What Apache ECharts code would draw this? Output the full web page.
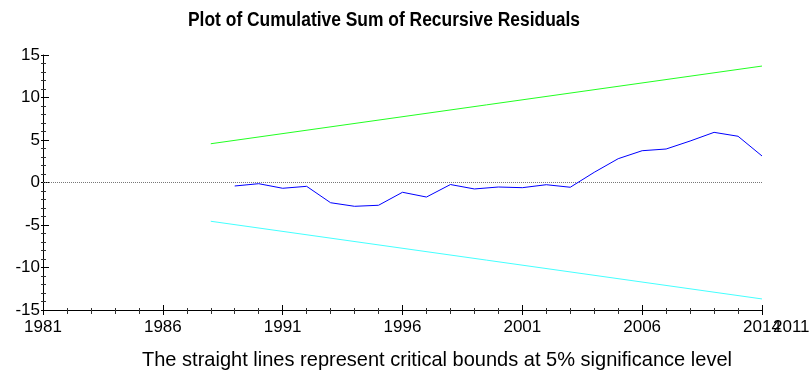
<!DOCTYPE html>
<html>
<head>
<meta charset="utf-8">
<script src="https://cdn.jsdelivr.net/npm/echarts@6/dist/echarts.min.js"></script>
<style>
html,body{margin:0;padding:0;background:#fff;}
#chart{width:809px;height:372px;}
</style>
</head>
<body>
<div id="chart"></div>
<script>
// Positions along the horizontal axis (0 = 1981 tick, 30 = last tick)
const tickLabels = {0:'1981', 5:'1986', 10:'1991', 15:'1996', 20:'2001', 25:'2006', 30:'2014'};
const extraLabel = '2011';

// CUSUM of recursive residuals
const cusumX = [8,9,10,11,12,13,14,15,16,17,18,19,20,21,22,23,24,25,26,27,28,29,30];
const cusumY = [-0.41,-0.14,-0.68,-0.45,-2.38,-2.80,-2.68,-1.15,-1.71,-0.24,-0.76,-0.53,-0.61,-0.26,-0.56,1.20,2.80,3.74,3.94,4.88,5.90,5.44,3.12];

// 5% critical bounds (straight lines, endpoints)
const boundX = [7, 30];
const upperBound = [4.56, 13.7];
const lowerBound = [-4.56, -13.7];

const titleText = 'Plot of Cumulative Sum of Recursive Residuals';
const footText = 'The straight lines represent critical bounds at 5% significance level';

const FONT = '"Liberation Sans", Arial, sans-serif';

const pairs = (xs, ys) => xs.map((x, i) => [x, ys[i]]);

// measure text to squeeze it into the narrow width of the original
const mctx = document.createElement('canvas').getContext('2d');
function widthOf(text, font) { mctx.font = font; return mctx.measureText(text).width; }
const titleFont = 'bold 20px ' + FONT;
const footFont = '21px ' + FONT;
const titleScale = 392 / widthOf(titleText, titleFont);
const footScale = 590 / widthOf(footText, footFont);

const chart = echarts.init(document.getElementById('chart'), null, {renderer: 'canvas'});

const xBase = {
  type: 'value', min: 0, max: 30, interval: 5,
  splitLine: {show: false}, position: 'bottom'
};
const yBase = {
  type: 'value', min: -15, max: 15, interval: 5,
  splitLine: {show: false}, position: 'left'
};

chart.setOption({
  animation: false,
  backgroundColor: '#fff',
  grid: {left: 43, right: 47, top: 55, bottom: 62},
  xAxis: [
    Object.assign({}, xBase, {
      axisLine: {show: true, onZero: false, lineStyle: {color: '#000', width: 1}},
      axisTick: {show: true, inside: false, length: 5, lineStyle: {color: '#000'}},
      minorTick: {show: true, splitNumber: 5, length: 4, lineStyle: {color: '#333'}},
      axisLabel: {
        show: true, margin: 9, fontFamily: FONT, fontSize: 17, color: '#000',
        formatter: v => tickLabels[v] || ''
      }
    }),
    Object.assign({}, xBase, {
      axisLine: {show: false, onZero: false},
      axisTick: {show: true, inside: true, length: 5, lineStyle: {color: '#000'}},
      minorTick: {show: true, splitNumber: 5, length: 2, lineStyle: {color: '#333'}},
      axisLabel: {show: false}
    })
  ],
  yAxis: [
    Object.assign({}, yBase, {
      axisLine: {show: true, onZero: false, lineStyle: {color: '#000', width: 1}},
      axisTick: {show: true, inside: false, length: 2, lineStyle: {color: '#000'}},
      minorTick: {show: true, splitNumber: 5, length: 2, lineStyle: {color: '#333'}},
      axisLabel: {show: true, margin: 3, fontFamily: FONT, fontSize: 17, color: '#000'}
    }),
    Object.assign({}, yBase, {
      axisLine: {show: false, onZero: false},
      axisTick: {show: true, inside: true, length: 6, lineStyle: {color: '#000'}},
      minorTick: {show: true, splitNumber: 5, length: 3, lineStyle: {color: '#333'}},
      axisLabel: {show: false}
    })
  ],
  series: [
    {
      type: 'line', name: 'zero', data: [[0, 0], [30, 0]],
      symbol: 'none', silent: true,
      lineStyle: {color: '#777', width: 1, type: [1, 1]}
    },
    {
      type: 'line', name: 'upper', data: pairs(boundX, upperBound),
      symbol: 'none', lineStyle: {color: '#22ff22', width: 1}
    },
    {
      type: 'line', name: 'lower', data: pairs(boundX, lowerBound),
      symbol: 'none', lineStyle: {color: '#44ffff', width: 1}
    },
    {
      type: 'line', name: 'cusum', data: pairs(cusumX, cusumY),
      symbol: 'none', lineStyle: {color: '#0000ff', width: 1}
    }
  ],
  graphic: [
    {
      type: 'text', x: 384, y: 10, scaleX: titleScale, originX: 0,
      style: {text: titleText, font: titleFont, fill: '#000', textAlign: 'center', textVerticalAlign: 'top'}
    },
    {
      type: 'text', left: 773, top: 319,
      style: {text: extraLabel, font: '17px ' + FONT, fill: '#000'}
    },
    {
      type: 'text', x: 437, y: 350, scaleX: footScale, originX: 0,
      style: {text: footText, font: footFont, fill: '#000', textAlign: 'center', textVerticalAlign: 'top'}
    }
  ]
});
</script>
</body>
</html>
